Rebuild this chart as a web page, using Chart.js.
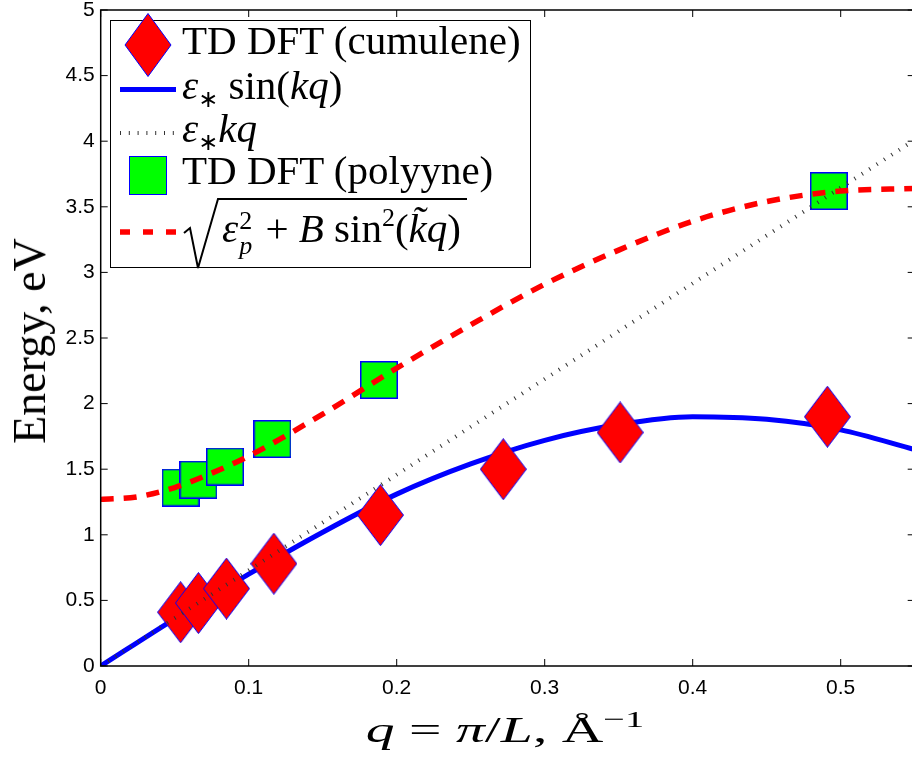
<!DOCTYPE html>
<html>
<head>
<meta charset="utf-8">
<script src="https://cdn.jsdelivr.net/npm/chart.js@4.4.1/dist/chart.umd.min.js"></script>
<style>
html, body { margin: 0; padding: 0; background: #fff; overflow: hidden; width: 912px; height: 758px; }
#wrap { position: relative; width: 912px; height: 758px; overflow: hidden; }
#plot { position: absolute; left: 0; top: 0; }
.tx { position: absolute; font-family: "Liberation Serif", "Times New Roman", serif; color: #000; white-space: nowrap; }
.it { font-style: italic; }
.sym { position: absolute; }
#legendBox { position: absolute; left: 110px; top: 20px; width: 421px; height: 248px; box-sizing: border-box; border: 1.5px solid #000; background: #fff; }
.row { font-size: 41px; line-height: 44px; left: 182px; }
sub.ast { font-family: "DejaVu Sans", sans-serif; font-size: 24px; vertical-align: -8px; line-height: 0; }
.ss { display: inline-block; position: relative; width: 17px; height: 1px; }
.ss span { position: absolute; left: 1px; font-size: 26px; line-height: 26px; }
sup.s { font-size: 26px; vertical-align: 16px; line-height: 0; }
</style>
</head>
<body>
<div id="wrap">
  <canvas id="plot" width="916" height="758"></canvas>

  <div id="legendBox"></div>
  <svg class="sym" style="left:124px;top:13px" width="48" height="64"><polygon points="24,0.5 47,32 24,63.5 1,32" fill="#ff0000" stroke="#0000ff" stroke-width="1"/></svg>
  <div class="sym" style="left:120px;top:87px;width:56px;height:4.5px;background:#0000ff"></div>
  <svg class="sym" style="left:118px;top:124px" width="60" height="20"><line x1="2" y1="9" x2="56" y2="9" stroke="#333" stroke-width="4" stroke-dasharray="1 7.8"/></svg>
  <div class="sym" style="left:129px;top:156px;width:38px;height:39px;box-sizing:border-box;background:#00ff00;border:1.5px solid #0000ff"></div>
  <svg class="sym" style="left:118px;top:222px" width="60" height="20"><line x1="2" y1="10" x2="58" y2="10" stroke="#ff0000" stroke-width="5.5" stroke-dasharray="10 13"/></svg>
  <svg class="sym" style="left:180px;top:195px" width="292" height="76"><path d="M4 38 L10 33 L18 73 L38 4 L287 4" fill="none" stroke="#000" stroke-width="2"/></svg>

  <div class="tx row" style="top:18px">TD DFT (cumulene)</div>
  <div class="tx row" style="top:63px"><span class="it">ε</span><sub class="ast">∗</sub> sin(<span class="it">kq</span>)</div>
  <div class="tx row" style="top:106px"><span class="it">ε</span><sub class="ast">∗</sub><span class="it">kq</span></div>
  <div class="tx row" style="top:148px">TD DFT (polyyne)</div>
  <div class="tx row" style="top:206px;left:222px"><span class="it">ε</span><span class="ss"><span style="top:-33px">2</span><span class="it" style="top:-8px">p</span></span> + <span class="it">B</span> sin<sup class="s">2</sup>(<span class="it">k̃q</span>)</div>

  <div class="tx" style="left:505px;top:710px;font-size:36px;line-height:40px;transform:translateX(-50%) scaleX(1.6)"><span class="it">q</span> = <span class="it">π</span>/<span class="it">L</span>, Å<sup style="font-size:24px;vertical-align:15px;line-height:0">−1</sup></div>
  <div class="tx" style="left:30px;top:341px;font-size:46px;line-height:50px;transform:translate(-50%,-50%) rotate(-90deg)">Energy, eV</div>
</div>

<script>
// TD DFT points, cumulene (diamonds)
const cumuleneQ = [0.054, 0.066, 0.085, 0.117, 0.189, 0.272, 0.351, 0.491];
const cumuleneE = [0.41, 0.48, 0.59, 0.78, 1.15, 1.50, 1.78, 1.90];

// TD DFT points, polyyne (squares)
const polyyneQ = [0.054, 0.066, 0.084, 0.116, 0.188, 0.492];
const polyyneE = [1.36, 1.42, 1.52, 1.73, 2.18, 3.62];

// eps* sin(kq)
const sinQ = [0, 0.05, 0.1, 0.15, 0.2, 0.25, 0.3, 0.35, 0.4, 0.45, 0.5, 0.55];
const sinE = [0, 0.36, 0.70, 1.02, 1.31, 1.54, 1.72, 1.84, 1.90, 1.88, 1.80, 1.65];

// eps* kq, dotted straight line
const linQ = [0, 0.55];
const linE = [0, 4.01];

// sqrt(eps_p^2 + B sin^2(kq)), red dashed curve
const polyQ = [0, 0.025, 0.05, 0.075, 0.1, 0.15, 0.2, 0.25, 0.3, 0.35, 0.4, 0.45, 0.5, 0.55];
const polyE = [1.27, 1.29, 1.36, 1.47, 1.60, 1.92, 2.27, 2.60, 2.91, 3.17, 3.39, 3.54, 3.62, 3.64];

// axis ticks
const xTicks = [0, 0.1, 0.2, 0.3, 0.4, 0.5];
const yTicks = [0, 0.5, 1, 1.5, 2, 2.5, 3, 3.5, 4, 4.5, 5];

const pts = (xs, ys) => xs.map((x, i) => ({ x: x, y: ys[i] }));

function diamond(w, h) {
  const c = document.createElement("canvas");
  c.width = w; c.height = h;
  const g = c.getContext("2d");
  g.beginPath();
  g.moveTo(w / 2, 0.5); g.lineTo(w - 0.5, h / 2); g.lineTo(w / 2, h - 0.5); g.lineTo(0.5, h / 2);
  g.closePath();
  g.fillStyle = "#ff0000"; g.fill();
  g.strokeStyle = "#0000ff"; g.lineWidth = 1; g.stroke();
  return c;
}

function square(s) {
  const c = document.createElement("canvas");
  c.width = s; c.height = s;
  const g = c.getContext("2d");
  g.fillStyle = "#00ff00"; g.fillRect(0, 0, s, s);
  g.strokeStyle = "#0000ff"; g.lineWidth = 1.5; g.strokeRect(0.75, 0.75, s - 1.5, s - 1.5);
  return c;
}

// matlab style box with inward ticks on all four sides
const axesBox = {
  id: "axesBox",
  afterDatasetsDraw(chart) {
    const { ctx, chartArea: a, scales } = chart;
    const x = scales.x, y = scales.y;
    ctx.save();
    ctx.strokeStyle = "#000";
    ctx.lineWidth = 1;
    ctx.beginPath();
    xTicks.forEach(v => {
      const px = x.getPixelForValue(v);
      ctx.moveTo(px, a.bottom); ctx.lineTo(px, a.bottom - 7);
      ctx.moveTo(px, a.top); ctx.lineTo(px, a.top + 7);
    });
    yTicks.forEach(v => {
      const py = y.getPixelForValue(v);
      ctx.moveTo(a.left, py); ctx.lineTo(a.left + 7, py);
      ctx.moveTo(a.right, py); ctx.lineTo(a.right - 7, py);
    });
    ctx.stroke();
    ctx.lineWidth = 1.5;
    ctx.strokeRect(a.left, a.top, a.right - a.left, a.bottom - a.top);
    ctx.restore();
  }
};

const tickFont = { family: "'Liberation Sans', Arial, sans-serif", size: 21 };

new Chart(document.getElementById("plot"), {
  type: "scatter",
  data: {
    datasets: [
      {
        data: pts(polyQ, polyE), showLine: true, borderColor: "#ff0000", borderWidth: 5.5,
        borderDash: [13, 10], pointRadius: 0, cubicInterpolationMode: "monotone"
      },
      {
        data: pts(linQ, linE), showLine: true, borderColor: "#333", borderWidth: 4,
        borderDash: [1, 7.8], borderCapStyle: "butt", pointRadius: 0
      },
      {
        data: pts(polyyneQ, polyyneE), pointStyle: square(38), pointRadius: 2
      },
      {
        data: pts(cumuleneQ, cumuleneE), pointStyle: diamond(47, 62), pointRadius: 2
      },
      {
        data: pts(sinQ, sinE), showLine: true, borderColor: "#0000ff", borderWidth: 5,
        pointRadius: 0, cubicInterpolationMode: "monotone"
      }
    ]
  },
  options: {
    responsive: false,
    animation: false,
    layout: { autoPadding: false, padding: { top: 10, right: 1.3, bottom: 0, left: 0 } },
    plugins: { legend: { display: false }, tooltip: { enabled: false } },
    scales: {
      x: {
        type: "linear", min: 0, max: 0.55,
        grid: { display: false, drawTicks: false },
        border: { display: false },
        afterBuildTicks: s => { s.ticks = xTicks.map(v => ({ value: v })); },
        afterFit: s => { s.height = 92; s.paddingLeft = 0; s.paddingRight = 0; },
        ticks: { font: tickFont, color: "#000", padding: 10, maxRotation: 0, autoSkip: false, callback: v => String(v) }
      },
      y: {
        type: "linear", min: 0, max: 5,
        grid: { display: false, drawTicks: false },
        border: { display: false },
        afterBuildTicks: s => { s.ticks = yTicks.map(v => ({ value: v })); },
        afterFit: s => { s.width = 100.7; s.paddingTop = 0; s.paddingBottom = 0; },
        ticks: { font: tickFont, color: "#000", padding: 6, autoSkip: false, callback: v => String(v) }
      }
    }
  },
  plugins: [axesBox]
});
</script>
</body>
</html>
